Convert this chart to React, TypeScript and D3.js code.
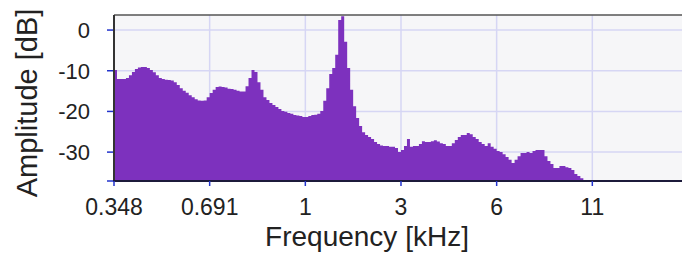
import React from "react";
import * as d3 from "d3";

// Frequency tick labels (kHz), one per equally spaced grid column
const FREQ_TICK_LABELS = ["0.348", "0.691", "1", "3", "6", "11"];
const BINS_PER_TICK = 32;
const BIN_DOMAIN = [0, 190];

const DB_TICKS = [0, -10, -20, -30];
const DB_DOMAIN = [-37.1, 3.7];

// Spectrum amplitude per bin (dB)
const AMPLITUDE_DB = [
  -9.8, -12.0, -12.0, -12.0, -11.8, -11.1, -10.3, -9.6, -9.2, -9.1,
  -9.1, -9.3, -9.8, -10.4, -11.1, -11.8, -12.0, -12.2, -12.3, -12.4,
  -12.8, -13.5, -14.3, -14.9, -15.4, -16.0, -16.5, -17.0, -17.3, -17.4,
  -17.3, -16.5, -15.5, -14.7, -14.0, -13.9, -14.0, -14.1, -14.4, -14.5,
  -14.7, -14.9, -15.1, -15.1, -13.8, -11.8, -9.8, -10.3, -12.8, -14.7,
  -16.5, -17.2, -17.9, -18.4, -18.9, -19.4, -19.9, -20.1, -20.4, -20.6,
  -20.9, -21.0, -21.1, -21.4, -21.4, -21.1, -20.9, -20.8, -20.6, -19.9,
  -17.4, -14.3, -10.8, -9.3, -6.1, 2.5, 3.4, -2.9, -9.3, -14.7,
  -18.7, -21.6, -23.6, -25.1, -25.8, -26.3, -26.8, -27.5, -28.0, -28.4,
  -28.5, -28.5, -28.7, -28.7, -29.0, -30.0, -29.5, -28.5, -26.8, -28.7,
  -28.5, -28.5, -28.0, -27.3, -27.5, -27.5, -27.3, -27.1, -27.4, -27.8,
  -28.0, -28.5, -28.5, -27.8, -27.0, -26.3, -25.8, -25.8, -25.3, -25.6,
  -26.3, -26.8, -27.5, -28.0, -28.5, -27.8, -28.7, -29.2, -29.7, -30.0,
  -30.5, -31.2, -31.9, -32.7, -31.9, -31.0, -30.2, -30.2, -30.0, -30.2,
  -29.7, -29.5, -29.5, -29.5, -31.0, -32.2, -32.9, -33.9, -33.9, -33.4,
  -33.4, -33.7, -33.9, -34.4, -35.4, -35.9, -36.4,
];

export default function App() {
  const W = 682;
  const H = 262;
  const left = 114;
  const right = 682;
  const top = 15;
  const bottom = 181;

  const x = d3.scaleLinear().domain(BIN_DOMAIN).range([left, right]);
  const y = d3.scaleLinear().domain(DB_DOMAIN).range([bottom, top]);

  const pts: [number, number][] = AMPLITUDE_DB.map((v, i) => [i, v]);
  pts.push([AMPLITUDE_DB.length, AMPLITUDE_DB[AMPLITUDE_DB.length - 1]]);

  const area = d3
    .area<[number, number]>()
    .x((d) => x(d[0]))
    .y0(y(DB_DOMAIN[0]))
    .y1((d) => y(d[1]))
    .curve(d3.curveStepAfter);

  const xTicks = FREQ_TICK_LABELS.map((label, i) => ({ label, pos: x(i * BINS_PER_TICK) }));
  const font = "'Liberation Sans', Arial, sans-serif";
  const tickBlue = "#2233cc";

  return (
    <svg
      width={W}
      height={H}
      style={{ position: "absolute", left: 0, top: 0, background: "#fff" }}
      fontFamily={font}
    >
      <rect x={left} y={top} width={right - left} height={bottom - top} fill="#f6f6f8" />
      {DB_TICKS.map((t) => (
        <line key={"hg" + t} x1={left} x2={right} y1={y(t)} y2={y(t)} stroke="#d6d6f4" strokeWidth={1.5} />
      ))}
      {xTicks.map((t) => (
        <line key={"vg" + t.label} x1={t.pos} x2={t.pos} y1={top} y2={bottom} stroke="#d6d6f4" strokeWidth={1.5} />
      ))}
      <path d={area(pts) || ""} fill="#7d31be" />
      {/* frame */}
      <line x1={left} x2={right} y1={top} y2={top} stroke="#555" strokeWidth={1.5} />
      <line x1={left} x2={left} y1={top} y2={bottom} stroke="#333" strokeWidth={2} />
      <line x1={left - 1} x2={right} y1={bottom} y2={bottom} stroke="#1c1a3a" strokeWidth={2} />
      {/* y ticks */}
      {[...DB_TICKS, DB_DOMAIN[0]].map((t) => (
        <line key={"yt" + t} x1={left - 7} x2={left - 1} y1={y(t)} y2={y(t)} stroke={tickBlue} strokeWidth={1.5} />
      ))}
      {DB_TICKS.map((t) => (
        <text key={"yl" + t} x={90} y={y(t)} dy="0.36em" textAnchor="end" fontSize={22} fill="#222">
          {t}
        </text>
      ))}
      {/* x ticks */}
      {xTicks.map((t) => (
        <g key={"xt" + t.label}>
          <line x1={t.pos} x2={t.pos} y1={bottom} y2={bottom + 5} stroke={tickBlue} strokeWidth={1.5} />
          <text x={t.pos} y={215} textAnchor="middle" fontSize={23} fill="#222">
            {t.label}
          </text>
        </g>
      ))}
      <text x={367} y={246} textAnchor="middle" fontSize={28} fill="#222">
        Frequency [kHz]
      </text>
      <text
        transform={`translate(37, 103) rotate(-90)`}
        textAnchor="middle"
        fontSize={29}
        fill="#222"
      >
        Amplitude [dB]
      </text>
    </svg>
  );
}
